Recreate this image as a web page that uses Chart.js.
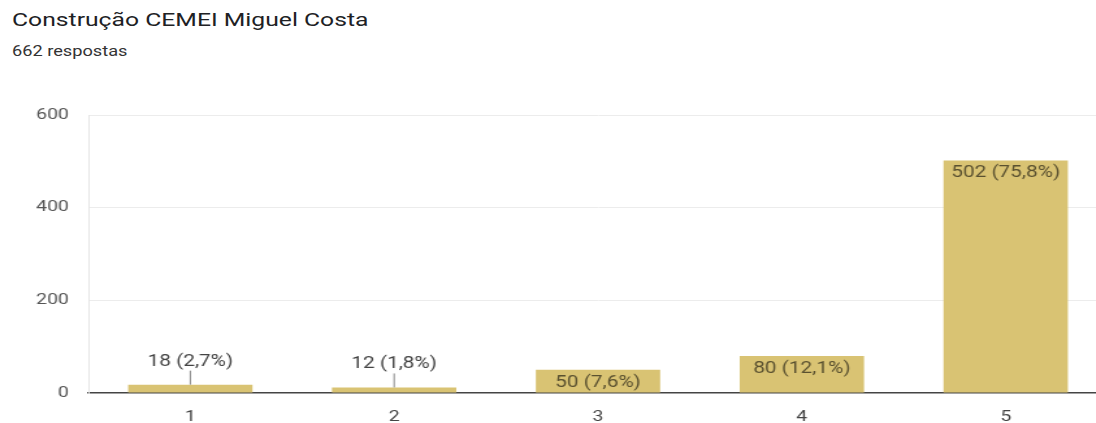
<!DOCTYPE html>
<html>
<head>
<meta charset="utf-8">
<script src="https://cdn.jsdelivr.net/npm/chart.js@4"></script>
<style>
  html, body { margin: 0; padding: 0; background: #fff; overflow: hidden; }
  body { width: 1096px; height: 423px; position: relative; font-family: Roboto, Arial, sans-serif; }
  /* the reference screenshot is stretched sideways, so everything is drawn narrower and scaled */
  .stretch { transform: scaleX(1.3); transform-origin: 0 0; }
  #title { position: absolute; left: 12px; top: 8px; font-size: 19px; color: #202124; white-space: nowrap; }
  #subtitle { position: absolute; left: 12px; top: 43px; font-size: 14px; color: #333; white-space: nowrap; }
  #wrap { position: absolute; left: 0; top: 91px; width: 854px; height: 333px; }
</style>
</head>
<body>
<div id="title" class="stretch">Construção CEMEI Miguel Costa</div>
<div id="subtitle" class="stretch">662 respostas</div>
<div id="wrap" class="stretch"><canvas id="chart"></canvas></div>
<script>
// data
const categories = ['1', '2', '3', '4', '5'];
const counts = [18, 12, 50, 80, 502];
const percents = ['2,7%', '1,8%', '7,6%', '12,1%', '75,8%'];
const yTicks = [0, 200, 400, 600];

// value labels: inside the bar top when it fits, otherwise above with a small leader line
const barLabels = {
  id: 'barLabels',
  afterDatasetsDraw(chart) {
    const ctx = chart.ctx;
    const meta = chart.getDatasetMeta(0);
    ctx.save();
    ctx.font = '16px Roboto, Arial, sans-serif';
    ctx.textAlign = 'center';
    ctx.textBaseline = 'middle';
    meta.data.forEach((bar, i) => {
      const text = counts[i] + ' (' + percents[i] + ')';
      const h = bar.base - bar.y;
      if (h > 20) {
        ctx.fillStyle = '#5a5130';
        ctx.fillText(text, bar.x, bar.y + 13);
      } else {
        ctx.fillStyle = '#444';
        ctx.fillText(text, bar.x, bar.y - 23);
        ctx.strokeStyle = '#888';
        ctx.lineWidth = 1;
        ctx.beginPath();
        ctx.moveTo(bar.x, bar.y - 14);
        ctx.lineTo(bar.x, bar.y);
        ctx.stroke();
      }
    });
    ctx.restore();
  }
};

new Chart(document.getElementById('chart'), {
  type: 'bar',
  data: {
    labels: categories,
    datasets: [{
      data: counts,
      backgroundColor: '#d9c373',
      barPercentage: 0.61,
      categoryPercentage: 1
    }]
  },
  options: {
    responsive: true,
    maintainAspectRatio: false,
    animation: false,
    layout: { padding: { top: 2, right: 2, left: 0, bottom: 0 } },
    plugins: { legend: { display: false }, tooltip: { enabled: false } },
    scales: {
      x: {
        grid: { display: false, drawTicks: false },
        border: { display: true, color: '#444', width: 1.5 },
        ticks: { color: '#444', font: { size: 15, family: 'Roboto' }, padding: 15 },
        afterFit(scale) { scale.height = 31; }
      },
      y: {
        min: 0,
        max: 600,
        afterBuildTicks(scale) { scale.ticks = yTicks.map(v => ({ value: v })); },
        grid: {
          drawTicks: false,
          color: c => (c.tick && c.tick.value === 0) ? 'rgba(0,0,0,0)' : '#ececec'
        },
        border: { display: true, color: '#e6e6e6' },
        ticks: { color: '#555', font: { size: 15, family: 'Roboto' }, padding: 15 },
        afterFit(scale) { scale.width = 68; }
      }
    }
  },
  plugins: [barLabels]
});
</script>
</body>
</html>
